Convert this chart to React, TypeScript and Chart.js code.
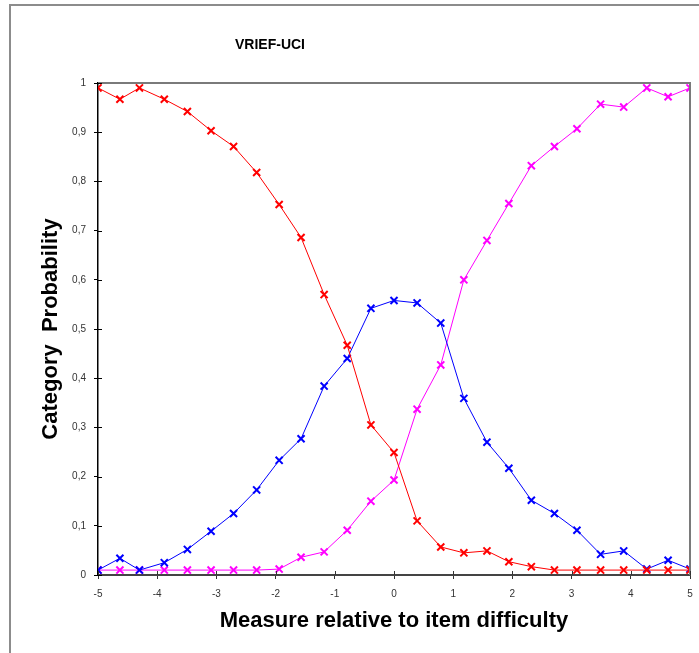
import React, { useEffect, useRef } from "react";
import { Chart, registerables } from "chart.js";

Chart.register(...registerables);

const measures = [-5, -4.63, -4.3, -3.88, -3.49, -3.09, -2.71, -2.32, -1.94, -1.57, -1.18, -0.79, -0.39, 0, 0.39, 0.79, 1.18, 1.57, 1.94, 2.32, 2.71, 3.09, 3.49, 3.88, 4.27, 4.63, 5];
const category0 = [0.99, 0.967, 0.99, 0.967, 0.942, 0.903, 0.871, 0.818, 0.753, 0.686, 0.57, 0.467, 0.305, 0.249, 0.11, 0.057, 0.045, 0.049, 0.027, 0.017, 0.01, 0.01, 0.01, 0.01, 0.01, 0.01, 0.01];
const category1 = [0.01, 0.034, 0.01, 0.025, 0.052, 0.089, 0.125, 0.173, 0.233, 0.277, 0.384, 0.44, 0.542, 0.558, 0.553, 0.512, 0.359, 0.27, 0.217, 0.152, 0.125, 0.091, 0.042, 0.049, 0.012, 0.03, 0.012];
const category2 = [0.01, 0.01, 0.01, 0.01, 0.01, 0.01, 0.01, 0.01, 0.012, 0.036, 0.047, 0.091, 0.15, 0.193, 0.337, 0.427, 0.6, 0.68, 0.755, 0.832, 0.871, 0.907, 0.957, 0.951, 0.99, 0.972, 0.99];
const seriesColors = ["#ff0000", "#0000ff", "#ff00ff"];
const seriesNames = ["0", "1", "2"];

const chartTitle = "VRIEF-UCI";
const xTitle = "Measure relative to item difficulty";
const yTitle = "Category  Probability";

const decorPlugin = {
  id: "decor",
  beforeDraw(chart: any) {
    const ctx = chart.ctx;
    ctx.save();
    ctx.fillStyle = "#ffffff";
    ctx.fillRect(0, 0, chart.width, chart.height);
    ctx.strokeStyle = "#8c8c8c";
    ctx.lineWidth = 2;
    ctx.beginPath();
    ctx.moveTo(10, chart.height);
    ctx.lineTo(10, 5);
    ctx.lineTo(chart.width, 5);
    ctx.stroke();
    ctx.restore();
  },
  afterDraw(chart: any) {
    const ctx = chart.ctx;
    const a = chart.chartArea;
    const xs = chart.scales.x;
    const ys = chart.scales.y;
    ctx.save();
    ctx.strokeStyle = "#7a7a7a";
    ctx.lineWidth = 2;
    ctx.beginPath();
    ctx.moveTo(a.left, a.top);
    ctx.lineTo(a.right, a.top);
    ctx.lineTo(a.right, a.bottom);
    ctx.stroke();
    ctx.lineWidth = 1;
    ctx.strokeStyle = "#000000";
    ys.ticks.forEach((t: any) => {
      const y = Math.round(ys.getPixelForValue(t.value)) + 0.5;
      ctx.beginPath();
      ctx.moveTo(a.left, y);
      ctx.lineTo(a.left + 4, y);
      ctx.stroke();
    });
    ctx.strokeStyle = "#333333";
    xs.ticks.forEach((t: any) => {
      const x = Math.round(xs.getPixelForValue(t.value)) + 0.5;
      ctx.beginPath();
      ctx.moveTo(x, a.bottom);
      ctx.lineTo(x, a.bottom - 4);
      ctx.stroke();
    });
    ctx.fillStyle = "#000000";
    ctx.font = "bold 14px 'Liberation Sans', Arial, sans-serif";
    ctx.textAlign = "center";
    ctx.textBaseline = "middle";
    ctx.fillText(chartTitle, 270, 45);
    ctx.restore();
  },
};

export default function App() {
  const ref = useRef<HTMLCanvasElement>(null);
  useEffect(() => {
    if (!ref.current) return;
    const datasets = [category0, category1, category2].map((vals, i) => ({
      label: seriesNames[i],
      data: measures.map((m, j) => ({ x: m, y: vals[j] })),
      borderColor: seriesColors[i],
      backgroundColor: seriesColors[i],
      borderWidth: 1,
      pointStyle: "crossRot" as const,
      pointRadius: 5,
      pointBorderWidth: 2,
      pointBorderColor: seriesColors[i],
      tension: 0,
    }));
    const chart = new Chart(ref.current, {
      type: "line",
      data: { datasets },
      options: {
        responsive: false,
        animation: false,
        layout: { padding: { left: 0, right: 9, top: 83, bottom: 0 } },
        plugins: {
          legend: { display: false },
          tooltip: { enabled: false },
          title: { display: false },
        },
        scales: {
          x: {
            type: "linear",
            min: -5,
            max: 5,
            afterFit: (s: any) => { s.height = 78; s.paddingLeft = 0; s.paddingRight = 0; },
            ticks: {
              stepSize: 1,
              padding: 9,
              color: "#333333",
              font: { family: "'Liberation Sans', Arial, sans-serif", size: 10 },
              maxRotation: 0,
              callback: (v: any) => String(v),
            },
            grid: { drawOnChartArea: false, drawTicks: true, tickLength: 4, color: "#333333" },
            border: { color: "#444444", width: 2 },
            title: {
              display: true,
              text: xTitle,
              color: "#000000",
              font: { family: "'Liberation Sans', Arial, sans-serif", size: 22, weight: "bold" },
              padding: { top: 0, bottom: 19 },
            },
          },
          y: {
            type: "linear",
            min: 0,
            max: 1,
            afterFit: (s: any) => { s.width = 98; },
            ticks: {
              stepSize: 0.1,
              padding: 8,
              color: "#333333",
              font: { family: "'Liberation Sans', Arial, sans-serif", size: 10 },
              callback: (v: any) => {
                const n = Math.round(Number(v) * 10) / 10;
                if (n === 0) return "0";
                if (n === 1) return "1";
                return n.toFixed(1).replace(".", ",");
              },
            },
            grid: { drawOnChartArea: false, drawTicks: true, tickLength: 4, color: "#000000" },
            border: { color: "#000000", width: 1.5 },
            title: {
              display: true,
              text: yTitle,
              color: "#000000",
              font: { family: "'Liberation Sans', Arial, sans-serif", size: 22, weight: "bold" },
              padding: { top: 38, bottom: 0 },
            },
          },
        },
      },
      plugins: [decorPlugin],
    });
    return () => chart.destroy();
  }, []);
  return (
    <div style={{ position: "absolute", left: 0, top: 0, width: 699, height: 653 }}>
      <canvas ref={ref} width={699} height={653} style={{ display: "block" }} />
    </div>
  );
}
